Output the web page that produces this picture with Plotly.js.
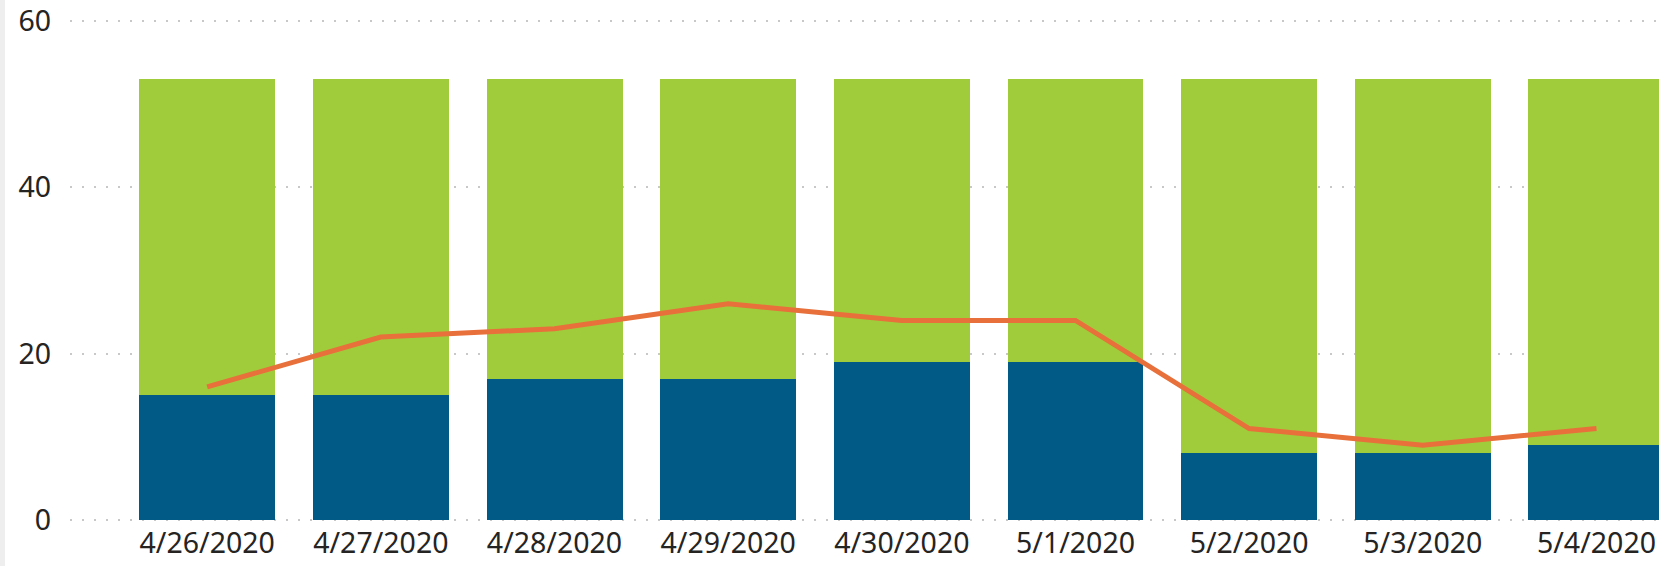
<!DOCTYPE html>
<html>
<head>
<meta charset="utf-8">
<script src="https://cdn.plot.ly/plotly-3.0.1.min.js"></script>
<style>
  html, body { margin: 0; padding: 0; background: #fff; }
  #wrap { position: relative; width: 1659px; height: 566px; overflow: hidden; }
  #edge { position: absolute; left: 0; top: 0; width: 5px; height: 566px; background: #eeeeee; z-index: 2; }
  #chart { position: absolute; left: 0; top: 0; width: 1659px; height: 566px; }
</style>
</head>
<body>
<div id="wrap"><div id="edge"></div><div id="chart"></div></div>
<script>
const dates = ["4/26/2020", "4/27/2020", "4/28/2020", "4/29/2020", "4/30/2020", "5/1/2020", "5/2/2020", "5/3/2020", "5/4/2020"];
const blueValues = [15, 15, 17, 17, 19, 19, 8, 8, 9];
const greenValues = [38, 38, 36, 36, 34, 34, 45, 45, 44];
const lineValues = [16, 22, 23, 26, 24, 24, 11, 9, 11];
const yTicks = [0, 20, 40, 60];

const font = "'Noto Sans', 'Open Sans', sans-serif";

const traces = [
  { type: "bar", x: dates, y: blueValues, marker: { color: "#005A85" }, hoverinfo: "skip" },
  { type: "bar", x: dates, y: greenValues, marker: { color: "#A0CC3C" }, hoverinfo: "skip" },
  { type: "scatter", mode: "lines", x: dates, y: lineValues, line: { color: "#E8703A", width: 5 }, hoverinfo: "skip" }
];

const layout = {
  width: 1659, height: 566,
  margin: { l: 70, r: 0, t: 18, b: 43 },
  paper_bgcolor: "#fff", plot_bgcolor: "#fff",
  barmode: "stack",
  bargap: 0.217,
  showlegend: false,
  font: { family: font, size: 28.5, color: "#252423" },
  xaxis: {
    type: "category",
    range: [-0.79, 8.36],
    showgrid: false, zeroline: false, showline: false,
    ticks: "", tickfont: { family: font, size: 28.5, color: "#252423" },
    fixedrange: true
  },
  yaxis: {
    range: [-0.36, 60.36],
    tickvals: yTicks,
    ticktext: yTicks.map(String),
    showgrid: true, gridcolor: "#c8c8c8", gridwidth: 2, griddash: "2px,10px",
    zeroline: false, showline: false, ticks: "",
    ticklabelstandoff: 18,
    tickfont: { family: font, size: 28.5, color: "#252423" },
    fixedrange: true
  }
};

Plotly.newPlot("chart", traces, layout, { displayModeBar: false, staticPlot: true });
</script>
</body>
</html>
